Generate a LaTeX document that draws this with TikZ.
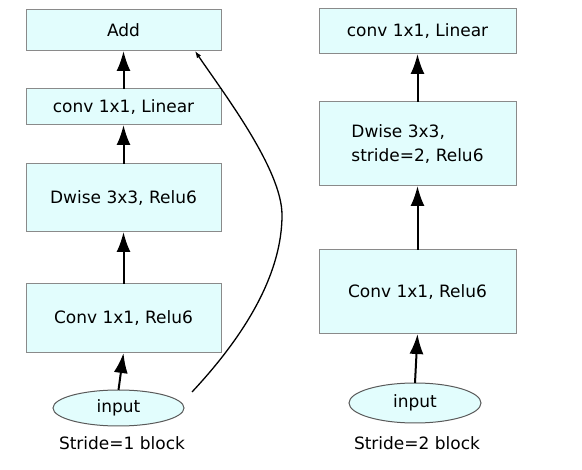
\documentclass[tikz,border=0pt]{standalone}
\usepackage{fontspec}
\setmainfont{DejaVu Sans}
\usetikzlibrary{arrows.meta,shapes.geometric}
\definecolor{blkfill}{HTML}{E2FDFD}
\definecolor{blkline}{HTML}{8A8A8A}
\begin{document}
\begin{tikzpicture}[x=1pt,y=-1pt,
  blk/.style={draw=blkline,fill=blkfill,line width=1pt,inner sep=0pt,outer sep=0pt,font=\fontsize{17}{24}\selectfont},
  inp/.style={ellipse,draw=black!65,fill=blkfill,line width=1pt,inner sep=0pt,outer sep=0pt,font=\fontsize{17}{24}\selectfont},
  arr/.style={line width=2pt,-{Latex[length=20pt,width=14pt]}},
  lbl/.style={font=\fontsize{17}{24}\selectfont}]
\useasboundingbox (0,0) rectangle (582,470);
\node[blk,minimum width=195pt,minimum height=41pt] (add) at (123.5,30.5) {Add};
\node[blk,minimum width=195pt,minimum height=36pt] (lin1) at (123.5,107) {conv 1x1, Linear};
\node[blk,minimum width=195pt,minimum height=68pt] (dw1) at (123.5,198) {Dwise 3x3, Relu6};
\node[blk,minimum width=195pt,minimum height=69pt] (cv1) at (123.5,318.5) {Conv 1x1, Relu6};
\node[inp,minimum width=131pt,minimum height=36pt] (in1) at (118.5,408) {input};
\node[lbl] (cap1) at (122,443) {Stride=1 block};
\coordinate (sk) at (192,392);
\draw[arr] (in1.north) -- (cv1.south);
\draw[arr] (cv1.north) -- (dw1.south);
\draw[arr] (dw1.north) -- (lin1.south);
\draw[arr] (lin1.north) -- (add.south);
\draw[line width=1.3pt,-{Latex[length=7pt,width=5pt]}] (sk) .. controls (250,330) and (282,270) .. (282,215) .. controls (282,170) and (225,95) .. (add.-16.4);
\node[blk,minimum width=197pt,minimum height=45pt] (lin2) at (417.5,31.5) {conv 1x1, Linear};
\node[blk,minimum width=197pt,minimum height=84pt,align=left] (dw2) at (417.5,144) {Dwise 3x3,\\stride=2, Relu6};
\node[blk,minimum width=197pt,minimum height=84pt] (cv2) at (417.5,292) {Conv 1x1, Relu6};
\node[inp,minimum width=132pt,minimum height=40pt] (in2) at (415,403) {input};
\node[lbl] (cap2) at (417,443) {Stride=2 block};
\draw[arr] (in2.north) -- (cv2.south);
\draw[arr] (cv2.north) -- (dw2.south);
\draw[arr] (dw2.north) -- (lin2.south);
\end{tikzpicture}
\end{document}
